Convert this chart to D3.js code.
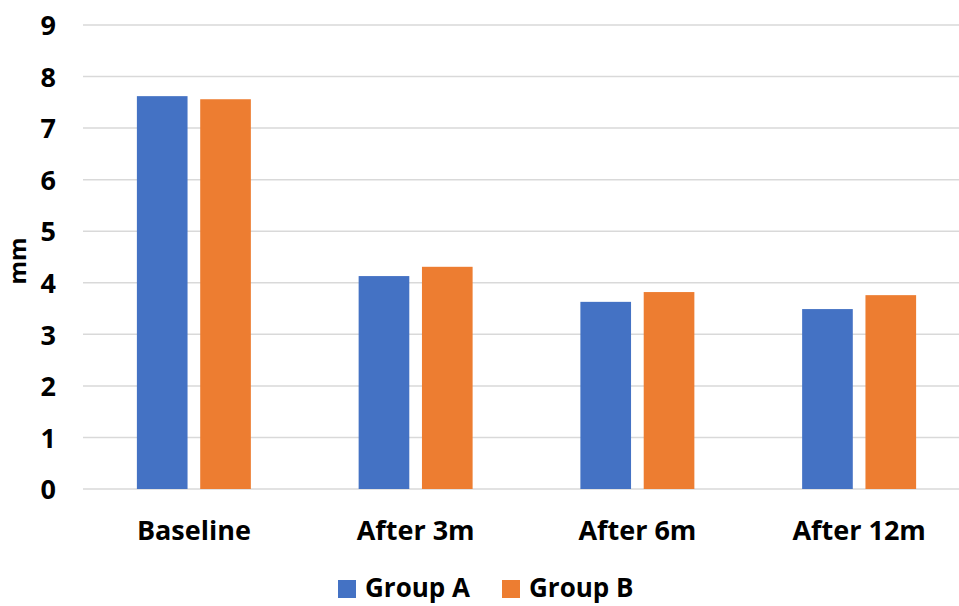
<!DOCTYPE html>
<html><head><meta charset="utf-8">
<script src="https://cdn.jsdelivr.net/npm/d3@7"></script>
<style>body{margin:0;background:#fff}svg{display:block}text{font-family:"Open Sans",Lato,sans-serif;font-weight:bold;fill:#000}</style>
</head><body><svg id="c" width="959" height="606"></svg>
<script>
const categories = ["Baseline","After 3m","After 6m","After 12m"];
const seriesNames = ["Group A","Group B"];
const groupA = [7.62, 4.13, 3.63, 3.49];
const groupB = [7.56, 4.31, 3.82, 3.76];
const yTicks = [0,1,2,3,4,5,6,7,8,9];
const colors = ["#4472C4","#ED7D31"];
const FONT = "'Open Sans',Lato,sans-serif";

const svg = d3.select("#c");
const y = d3.scaleLinear().domain([0,9]).range([489,25]);
const x = d3.scaleBand().domain(categories).range([83,970]).paddingInner(0.486).paddingOuter(0.243);
const xs = d3.scaleBand().domain(seriesNames).range([0,x.bandwidth()]).paddingInner(0.2);

svg.append("g").selectAll("line").data(yTicks).join("line")
  .attr("x1",83).attr("x2",959).attr("y1",d=>y(d)).attr("y2",d=>y(d))
  .attr("stroke","#d9d9d9").attr("stroke-width",1.5);

const yAxis = svg.append("g").attr("transform","translate(56,0)")
  .call(d3.axisLeft(y).tickValues(yTicks).tickSize(0).tickPadding(0));
yAxis.select(".domain").remove();
yAxis.attr("font-family",FONT).attr("font-size",27);
yAxis.selectAll("text").attr("dy","0.36em").attr("font-weight","bold");

const data = categories.map((c,i)=>({c, vals:[groupA[i],groupB[i]]}));
svg.append("g").selectAll("g").data(data).join("g")
  .attr("transform",d=>`translate(${x(d.c)},0)`)
  .selectAll("rect").data(d=>d.vals.map((v,j)=>({v,s:seriesNames[j],j})))
  .join("rect")
  .attr("x",d=>xs(d.s)).attr("width",xs.bandwidth())
  .attr("y",d=>y(d.v)).attr("height",d=>y(0)-y(d.v))
  .attr("fill",d=>colors[d.j]);

const xAxis = svg.append("g").attr("transform","translate(0,489)")
  .call(d3.axisBottom(x).tickSize(0).tickPadding(0));
xAxis.select(".domain").remove();
xAxis.attr("font-family",FONT).attr("font-size",27);
xAxis.selectAll("text").attr("dy","0").attr("y",51).attr("font-weight","bold");

svg.append("text").attr("transform","translate(26,261) rotate(-90)")
  .attr("text-anchor","middle").attr("font-size",24).text("mm");

const leg = svg.append("g");
const legX = [338,502];
seriesNames.forEach((s,i)=>{
  leg.append("rect").attr("x",legX[i]).attr("y",580).attr("width",18).attr("height",18).attr("fill",colors[i]);
  leg.append("text").attr("x",legX[i]+27).attr("y",597).attr("font-size",26).text(s);
});
</script></body></html>
